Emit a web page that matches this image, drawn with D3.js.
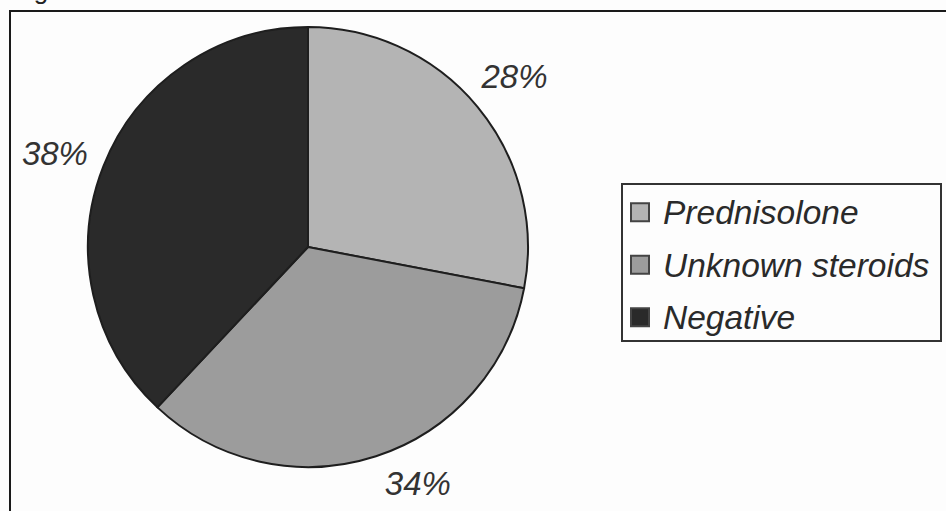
<!DOCTYPE html>
<html>
<head>
<meta charset="utf-8">
<script src="https://cdn.jsdelivr.net/npm/d3@7"></script>
<style>
  html, body { margin: 0; padding: 0; background: #fdfdfd; }
  svg { display: block; }
  text { font-family: "Liberation Sans", Arial, sans-serif; }
</style>
</head>
<body>
<svg id="chart" width="946" height="511"></svg>
<script>
// Steroid screening results, share of samples
const categories = ["Prednisolone", "Unknown steroids", "Negative"];
const values = [28, 34, 38];
const valueLabels = ["28%", "34%", "38%"];

const sliceColors = ["#b4b4b4", "#9c9c9c", "#2a2a2a"];
const labelAngleShift = [0, -7, -1.2]; // degrees, keeps labels clear of the rim
const labelRadius = [268, 260, 270];

const width = 946, height = 511;
const cx = 308, cy = 247, radius = 220;

const svg = d3.select("#chart");

// outer frame of the figure panel
svg.append("rect")
  .attr("x", 10).attr("y", 11)
  .attr("width", width + 20).attr("height", height + 20)
  .attr("fill", "none").attr("stroke", "#1a1a1a").attr("stroke-width", 2);

// figure caption, running off the top of the panel
svg.append("text")
  .attr("x", 12).attr("y", -1)
  .attr("font-family", "'Liberation Serif', serif")
  .attr("font-size", 26)
  .attr("fill", "#222")
  .text("Fig.");

const pie = d3.pie().value(d => d).sort(null);
const arcs = pie(values);
const arc = d3.arc().innerRadius(0).outerRadius(radius);

const g = svg.append("g").attr("transform", `translate(${cx},${cy})`);

g.selectAll("path.slice")
  .data(arcs)
  .join("path")
  .attr("class", "slice")
  .attr("d", arc)
  .attr("fill", (d, i) => sliceColors[i])
  .attr("stroke", "#1e1e1e")
  .attr("stroke-width", 2)
  .attr("stroke-linejoin", "round");

// value labels outside the pie
const labelAngle = (d, i) => (d.startAngle + d.endAngle) / 2 + labelAngleShift[i] * Math.PI / 180;
g.selectAll("text.value")
  .data(arcs)
  .join("text")
  .attr("class", "value")
  .attr("x", (d, i) => labelRadius[i] * Math.sin(labelAngle(d, i)))
  .attr("y", (d, i) => -labelRadius[i] * Math.cos(labelAngle(d, i)))
  .attr("dy", "0.36em")
  .attr("text-anchor", "middle")
  .attr("font-size", 33)
  .attr("font-style", "italic")
  .attr("fill", "#333")
  .text((d, i) => valueLabels[i]);

// legend
const legend = svg.append("g").attr("transform", "translate(622,184)");
legend.append("rect")
  .attr("x", 0).attr("y", 0)
  .attr("width", 319).attr("height", 157)
  .attr("fill", "#fdfdfd")
  .attr("stroke", "#333").attr("stroke-width", 2);

const rowY = d3.scaleBand().domain(categories).range([2, 159.5]).paddingOuter(0);

const items = legend.selectAll("g.item")
  .data(categories)
  .join("g")
  .attr("class", "item")
  .attr("transform", d => `translate(0,${rowY(d) + rowY.bandwidth() / 2})`);

items.append("rect")
  .attr("x", 9).attr("y", -9)
  .attr("width", 18).attr("height", 18)
  .attr("fill", (d, i) => sliceColors[i])
  .attr("stroke", "#444").attr("stroke-width", 2);

items.append("text")
  .attr("x", 41).attr("y", 0)
  .attr("dy", "0.36em")
  .attr("font-size", 33.5)
  .attr("font-style", "italic")
  .attr("fill", "#2a2a2a")
  .text(d => d);
</script>
</body>
</html>
